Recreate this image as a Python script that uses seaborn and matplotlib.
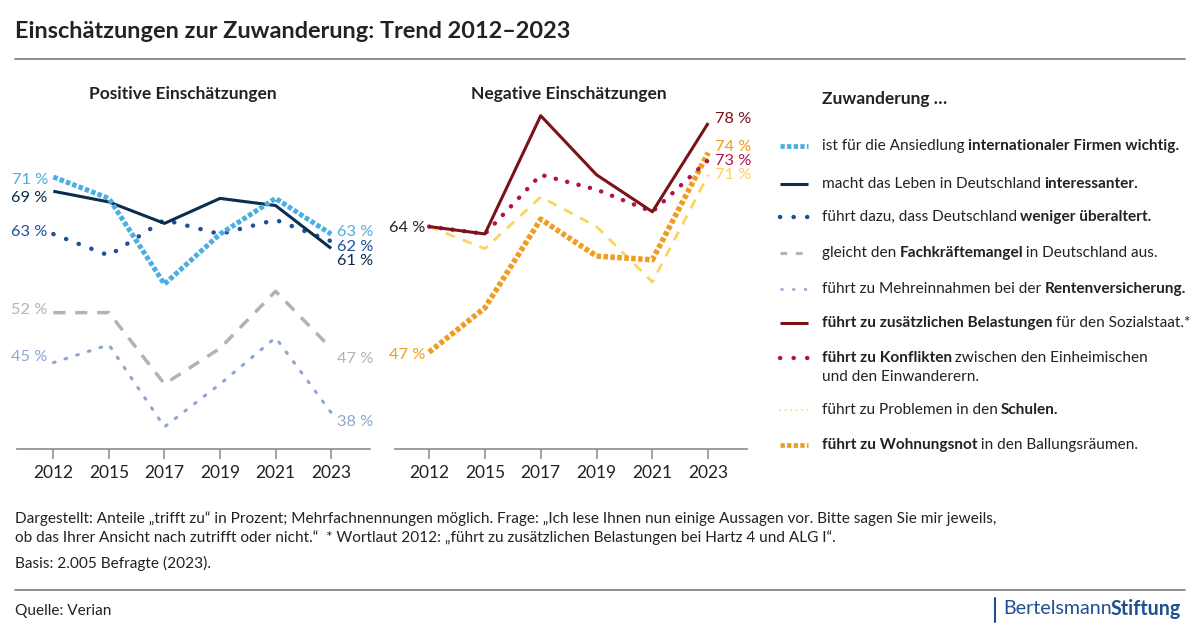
import matplotlib
matplotlib.use("Agg")
import matplotlib.pyplot as plt
from matplotlib.lines import Line2D
import numpy as np
import pandas as pd
import seaborn as sns

# ---- data (in percent) ----
years = ["2012", "2015", "2017", "2019", "2021", "2023"]

firmen = [71, 68, 56, 63, 68, 63]
interessanter = [69, 67.5, 64.5, 68, 67, 61]
ueberaltert = [63, 60, 65, 63, 65, 62]
fachkraefte = [52, 52, 42, 47, 55, 47]
rente = [45, 47.5, 36, 42, 48.5, 38]

belastungen = [64, 63, 79, 71, 66, 78]
konflikte = [64, 63, 71, 69, 66, 73]
schulen = [64, 61, 68, 64, 56.5, 71]
wohnungsnot = [47, 53, 65, 60, 59.5, 74]

C_FIRMEN = "#4aaee3"
C_NAVY = "#0c2d4e"
C_BLUE = "#1e4f9a"
C_GRAY = "#b3b3b3"
C_RENTE = "#8ea6d4"
C_RED = "#7b1218"
C_CRIMSON = "#b01548"
C_YELLOW = "#fcd45c"
C_ORANGE = "#f09c1e"
TXT = "#222222"

sns.set_theme(style="white")
plt.rcParams["font.family"] = ["Lato", "DejaVu Sans"]

fig = plt.figure(figsize=(12, 6.35), dpi=100)
W, H = 1200, 635


def fx(px):
    return px / W


def fy(py):
    return 1 - py / H


# series styles: (values, color, linewidth, linestyle, capstyle)
pos_series = [
    (fachkraefte, C_GRAY, 2.5, (0, (3.5, 2.8)), "butt"),
    (rente, C_RENTE, 2.2, (0, (0.6, 3.4)), "round"),
    (ueberaltert, C_BLUE, 3.2, (0, (0.05, 3.0)), "round"),
    (interessanter, C_NAVY, 2.2, "-", "butt"),
    (firmen, C_FIRMEN, 3.6, (0, (0.9, 0.45)), "butt"),
]
neg_series = [
    (schulen, C_YELLOW, 2.0, (0, (3.5, 3.0)), "butt"),
    (wohnungsnot, C_ORANGE, 4.0, (0, (0.8, 0.45)), "butt"),
    (konflikte, C_CRIMSON, 3.2, (0, (0.05, 2.6)), "round"),
    (belastungen, C_RED, 2.2, "-", "butt"),
]

ax1 = fig.add_axes([fx(16.7), fy(449.3), fx(370 - 16.7), (449.3 - 110) / H])
ax2 = fig.add_axes([fx(395), fy(449.3), fx(747.3 - 395), (449.3 - 110) / H])

xpos = np.arange(len(years))
for ax, series in ((ax1, pos_series), (ax2, neg_series)):
    for vals, col, lw, ls, cap in series:
        df = pd.DataFrame({"x": xpos, "y": vals})
        sns.lineplot(data=df, x="x", y="y", ax=ax, color=col, linewidth=lw,
                     linestyle=ls, dash_capstyle=cap, solid_capstyle="butt",
                     legend=False)
    ax.set_xticks(xpos)
    ax.set_xticklabels(years)
    ax.set_xlabel("")
    ax.set_ylabel("")
    ax.set_yticks([])
    for s in ("top", "right", "left"):
        ax.spines[s].set_visible(False)
    ax.spines["bottom"].set_color("#8c8c8c")
    ax.spines["bottom"].set_linewidth(1.2)
    ax.tick_params(axis="x", bottom=True, length=7, width=1.1, color="#8c8c8c",
                   labelsize=12.5, labelcolor=TXT, pad=4)
    ax.set_facecolor("none")

ax1.set_xlim(-0.66, 5.7)
ax1.set_ylim(32.86, 80.38)
ax2.set_xlim(-0.61, 5.70)
ax2.set_ylim(33.86, 79.77)


def pct(v):
    return f"{round(v)} %"


# start / end labels: (values, color, nudge at start, nudge at end; data units)
lab_kw = dict(fontsize=11.8, va="center")
for vals, col, ds, de in [
    (firmen, C_FIRMEN, -0.43, 0.33),
    (interessanter, C_NAVY, -0.9, -1.73),
    (ueberaltert, C_BLUE, 0.33, -0.77),
    (fachkraefte, C_GRAY, 0.37, -1.54),
    (rente, C_RENTE, 0.78, -1.28),
]:
    ax1.text(-0.1, vals[0] + ds, pct(vals[0]), color=col, ha="right", **lab_kw)
    ax1.text(5.1, vals[-1] + de, pct(vals[-1]), color=col, ha="left", **lab_kw)

ax2.text(-0.06, belastungen[0] - 0.16, pct(belastungen[0]), color=TXT, ha="right", **lab_kw)
ax2.text(-0.06, wohnungsnot[0] - 0.38, pct(wohnungsnot[0]), color=C_ORANGE, ha="right", **lab_kw)
for vals, col, de in [
    (belastungen, C_RED, 0.51),
    (wohnungsnot, C_ORANGE, 0.72),
    (konflikte, C_CRIMSON, -0.09),
    (schulen, C_YELLOW, -0.03),
]:
    ax2.text(5.12, vals[-1] + de, pct(vals[-1]), color=col, ha="left", **lab_kw)

# ---- titles and rules ----
fig.text(fx(15), fy(31), "Einschätzungen zur Zuwanderung: Trend 2012–2023",
         fontsize=16.9, fontweight="bold", color=TXT, va="center")
fig.add_artist(Line2D([fx(15), fx(1185)], [fy(59), fy(59)], color="#7a7a7a", lw=1.2))
fig.add_artist(Line2D([fx(15), fx(1185)], [fy(590), fy(590)], color="#7a7a7a", lw=1.2))
fig.text(fx(183), fy(94), "Positive Einschätzungen", fontsize=12.5,
         fontweight="bold", color=TXT, ha="center", va="center")
fig.text(fx(569), fy(94), "Negative Einschätzungen", fontsize=12.5,
         fontweight="bold", color=TXT, ha="center", va="center")
fig.text(fx(822), fy(99), "Zuwanderung …", fontsize=12.5,
         fontweight="bold", color=TXT, va="center")

renderer = fig.canvas.get_renderer()


def rich(x, y, parts, size=11.1, color=TXT):
    """Draw text pieces one after another, some of them bold."""
    for txt, bold in parts:
        t = fig.text(x, y, txt, fontsize=size, color=color, va="center",
                     fontweight="bold" if bold else "normal")
        x += (t.get_window_extent(renderer).width - 0.7) / W


# ---- legend ----
legend_rows = [
    (146, C_FIRMEN, 3.4, (0, (0.9, 0.5)), "butt",
     [("ist für die Ansiedlung ", False), ("internationaler Firmen wichtig.", True)]),
    (184, C_NAVY, 2.2, "-", "butt",
     [("macht das Leben in Deutschland ", False), ("interessanter.", True)]),
    (217, C_BLUE, 3.2, (0, (0.05, 3.0)), "round",
     [("führt dazu, dass Deutschland ", False), ("weniger überaltert.", True)]),
    (253, C_GRAY, 2.2, (0, (2.2, 2.8)), "butt",
     [("gleicht den ", False), ("Fachkräftemangel", True), (" in Deutschland aus.", False)]),
    (289, C_RENTE, 1.8, (0, (1.2, 3.5)), "butt",
     [("führt zu Mehreinnahmen bei der ", False), ("Rentenversicherung.", True)]),
    (323, C_RED, 2.2, "-", "butt",
     [("führt zu zusätzlichen Belastungen", True), (" für den Sozialstaat.*", False)]),
    (358, C_CRIMSON, 3.2, (0, (0.05, 3.0)), "round",
     [("führt zu Konflikten", True), (" zwischen den Einheimischen", False)]),
    (410, C_YELLOW, 1.3, (0, (0.05, 3.0)), "round",
     [("führt zu Problemen in den ", False), ("Schulen.", True)]),
    (445, C_ORANGE, 3.4, (0, (0.9, 0.5)), "butt",
     [("führt zu Wohnungsnot", True), (" in den Ballungsräumen.", False)]),
]
for py, col, lw, ls, cap, parts in legend_rows:
    fig.add_artist(Line2D([fx(780), fx(808)], [fy(py), fy(py)], color=col, lw=lw,
                          linestyle=ls, dash_capstyle=cap, solid_capstyle="butt"))
    rich(fx(822), fy(py), parts)
rich(fx(822), fy(377), [("und den Einwanderern.", False)])

# ---- footer ----
foot_kw = dict(fontsize=11.1, color=TXT, va="center")
fig.text(fx(15), fy(519),
         "Dargestellt: Anteile „trifft zu“ in Prozent; Mehrfachnennungen möglich. "
         "Frage: „Ich lese Ihnen nun einige Aussagen vor. Bitte sagen Sie mir jeweils,",
         **foot_kw)
fig.text(fx(15), fy(538),
         "ob das Ihrer Ansicht nach zutrifft oder nicht.“  * Wortlaut 2012: "
         "„führt zu zusätzlichen Belastungen bei Hartz 4 und ALG I“.",
         **foot_kw)
fig.text(fx(15), fy(563), "Basis: 2.005 Befragte (2023).", **foot_kw)
fig.text(fx(15), fy(611), "Quelle: Verian", **foot_kw)

fig.add_artist(Line2D([fx(995), fx(995)], [fy(598), fy(622)], color="#1d4f91", lw=1.5))
rich(fx(1003), fy(609), [("Bertelsmann", False), ("Stiftung", True)],
     size=14.1, color="#1d4f91")

fig.savefig("out.png", dpi=100, facecolor="white")
